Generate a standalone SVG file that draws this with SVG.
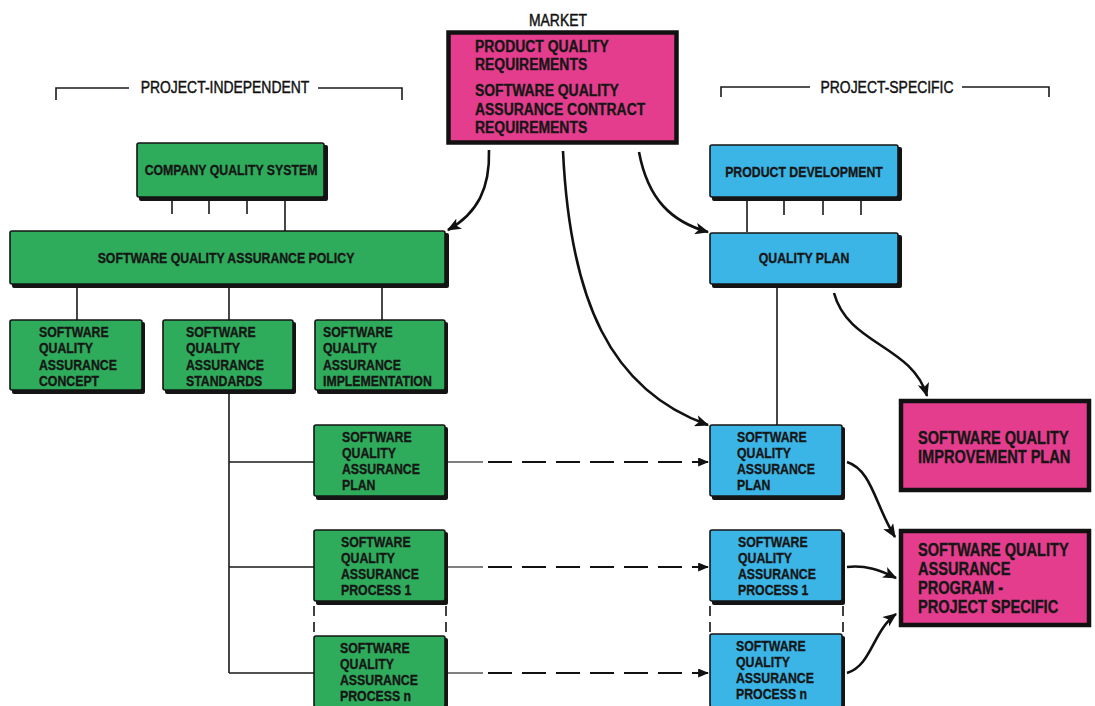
<svg xmlns="http://www.w3.org/2000/svg" width="1095" height="706" viewBox="0 0 1095 706">
<style>
.t{font-family:"Liberation Sans",Arial,sans-serif;font-weight:bold;font-size:15px;fill:#161616;stroke:#161616;stroke-width:0.35}
.tl{font-family:"Liberation Sans",Arial,sans-serif;font-weight:bold;font-size:17px;fill:#161616;stroke:#161616;stroke-width:0.35}
.tp{font-family:"Liberation Sans",Arial,sans-serif;font-weight:bold;font-size:17.8px;fill:#161616;stroke:#161616;stroke-width:0.35}
.h{font-family:"Liberation Sans",Arial,sans-serif;font-size:17px;fill:#111;stroke:#111;stroke-width:0.45}
.g{fill:#2eab5b;stroke:#141414;stroke-width:1.6}
.bl{fill:#3ab5e6;stroke:#141414;stroke-width:1.6}
.pk{fill:#e53d8d;stroke:#111;stroke-width:4.5}
.sh{fill:#141414}
.ln{stroke:#1a1a1a;stroke-width:1.6;fill:none}
.st{stroke:#555;stroke-width:1.6;fill:none}
.ds{stroke:#111;stroke-width:2;fill:none;stroke-dasharray:24 10}
.dv{stroke:#111;stroke-width:1.6;fill:none;stroke-dasharray:10 6}
.cv{stroke:#111;stroke-width:2.6;fill:none;marker-end:url(#ah)}
.ar{stroke:#111;stroke-width:2;fill:none;marker-end:url(#as)}
</style>
<defs>
<marker id="ah" viewBox="0 0 12 10" refX="11" refY="5" markerWidth="5.5" markerHeight="4.5" orient="auto" markerUnits="strokeWidth">
<path d="M0,0 L12,5 L0,10 L3,5 z" fill="#111"/>
</marker>
<marker id="as" viewBox="0 0 12 10" refX="11" refY="5" markerWidth="6" markerHeight="4.5" orient="auto" markerUnits="strokeWidth">
<path d="M0,0 L12,5 L0,10 z" fill="#111"/>
</marker>
</defs>
<rect width="1095" height="706" fill="#ffffff"/>

<g id="headers">
<path class="ln" d="M56,100 V88 H129 M318,88 H402 V100"/>
<g transform="translate(225,0) scale(0.82,1)"><text class="h" x="0" y="93" text-anchor="middle">PROJECT-INDEPENDENT</text></g>
<path class="ln" d="M721,97 V87 H810 M962,87 H1049 V97"/>
<g transform="translate(887,0) scale(0.82,1)"><text class="h" x="0" y="93" text-anchor="middle">PROJECT-SPECIFIC</text></g>
</g>

<g id="connectors">
<path class="ln" d="M172,199 V214 M209,199 V214 M247,199 V214 M285,199 V231"/>
<path class="ln" d="M77,285 V320 M229,285 V320 M382,285 V320"/>
<path class="ln" d="M229,391 V673 M229,462 H314 M229,567 H314 M229,673 H314"/>
<path class="st" d="M447,462 H483 M447,567 H483 M447,673 H483"/>
<path class="ds" d="M488,462 H700 M488,567 H700 M488,673 H700"/>
<path class="ar" d="M696,462 H708"/>
<path class="ar" d="M696,567 H708"/>
<path class="ar" d="M696,673 H708"/>
<path class="dv" d="M314,606 V633 M446,606 V633 M710,606 V633 M843,606 V633"/>
<path class="ln" d="M747,199 V232 M784,199 V215 M823,199 V215 M861,199 V215 M777,286 V425"/>
<path class="cv" d="M489,150 C490,188 478,213 448,230"/>
<path class="cv" d="M563,151 C570,300 610,390 708,425"/>
<path class="cv" d="M639,152 C648,200 672,222 708,232"/>
<path class="cv" d="M834,293 C848,345 912,345 927,396"/>
<path class="cv" d="M847,462 C872,470 875,505 895,537"/>
<path class="cv" d="M847,567 C866,565 880,570 896,578"/>
<path class="cv" d="M847,673 C872,665 872,632 896,614"/>
</g>

<g id="market">
<g transform="translate(558,0) scale(0.82,1)"><text class="h" x="0" y="26" text-anchor="middle">MARKET</text></g>
<rect class="pk" x="448.5" y="32.5" width="228" height="110"/>
<g transform="translate(475,0) scale(0.82,1)">
<text class="tl" x="0" y="52">PRODUCT QUALITY</text>
<text class="tl" x="0" y="70">REQUIREMENTS</text>
<text class="tl" x="0" y="96">SOFTWARE QUALITY</text>
<text class="tl" x="0" y="115">ASSURANCE CONTRACT</text>
<text class="tl" x="0" y="133">REQUIREMENTS</text>
</g>
</g>

<g id="company-quality-system">
<rect class="sh" x="139" y="145" width="189" height="56" rx="2"/>
<rect class="g" x="137" y="143" width="187" height="54" rx="2"/>
<g transform="translate(231,0) scale(0.82,1)"><text class="t" x="0" y="175" text-anchor="middle">COMPANY QUALITY SYSTEM</text></g>
</g>

<g id="sqa-policy">
<rect class="sh" x="12" y="233" width="437" height="55" rx="2"/>
<rect class="g" x="10" y="231" width="435" height="53" rx="2"/>
<g transform="translate(226,0) scale(0.82,1)"><text class="t" x="0" y="263" text-anchor="middle">SOFTWARE QUALITY ASSURANCE POLICY</text></g>
</g>

<g id="sqa-concept">
<rect class="sh" x="12" y="322" width="133" height="72" rx="2"/>
<rect class="g" x="10" y="320" width="132" height="70" rx="2"/>
<g transform="translate(39,0) scale(0.82,1)">
<text class="t" x="0" y="337">SOFTWARE</text>
<text class="t" x="0" y="353.5">QUALITY</text>
<text class="t" x="0" y="370">ASSURANCE</text>
<text class="t" x="0" y="386.5">CONCEPT</text>
</g>
</g>

<g id="sqa-standards">
<rect class="sh" x="165" y="322" width="131" height="72" rx="2"/>
<rect class="g" x="163" y="320" width="130" height="70" rx="2"/>
<g transform="translate(186,0) scale(0.82,1)">
<text class="t" x="0" y="337">SOFTWARE</text>
<text class="t" x="0" y="353.5">QUALITY</text>
<text class="t" x="0" y="370">ASSURANCE</text>
<text class="t" x="0" y="386.5">STANDARDS</text>
</g>
</g>

<g id="sqa-implementation">
<rect class="sh" x="317" y="322" width="131" height="72" rx="2"/>
<rect class="g" x="315" y="320" width="130" height="70" rx="2"/>
<g transform="translate(323,0) scale(0.82,1)">
<text class="t" x="0" y="337">SOFTWARE</text>
<text class="t" x="0" y="353.5">QUALITY</text>
<text class="t" x="0" y="370">ASSURANCE</text>
<text class="t" x="0" y="386.5">IMPLEMENTATION</text>
</g>
</g>

<g id="sqa-plan-generic">
<rect class="sh" x="316" y="427" width="132" height="73" rx="2"/>
<rect class="g" x="314" y="425" width="131" height="71" rx="2"/>
<g transform="translate(342,0) scale(0.82,1)">
<text class="t" x="0" y="442">SOFTWARE</text>
<text class="t" x="0" y="458">QUALITY</text>
<text class="t" x="0" y="474">ASSURANCE</text>
<text class="t" x="0" y="490">PLAN</text>
</g>
</g>

<g id="sqa-process-1-generic">
<rect class="sh" x="316" y="532" width="132" height="73" rx="2"/>
<rect class="g" x="314" y="530" width="131" height="71" rx="2"/>
<g transform="translate(341,0) scale(0.82,1)">
<text class="t" x="0" y="547">SOFTWARE</text>
<text class="t" x="0" y="563">QUALITY</text>
<text class="t" x="0" y="579">ASSURANCE</text>
<text class="t" x="0" y="595">PROCESS 1</text>
</g>
</g>

<g id="sqa-process-n-generic">
<rect class="sh" x="316" y="638" width="132" height="73" rx="2"/>
<rect class="g" x="314" y="636" width="131" height="71" rx="2"/>
<g transform="translate(340,0) scale(0.82,1)">
<text class="t" x="0" y="653">SOFTWARE</text>
<text class="t" x="0" y="669">QUALITY</text>
<text class="t" x="0" y="685">ASSURANCE</text>
<text class="t" x="0" y="701">PROCESS n</text>
</g>
</g>

<g id="product-development">
<rect class="sh" x="712" y="147" width="190" height="54" rx="2"/>
<rect class="bl" x="710" y="145" width="188" height="52" rx="2"/>
<g transform="translate(804,0) scale(0.82,1)"><text class="t" x="0" y="177" text-anchor="middle">PRODUCT DEVELOPMENT</text></g>
</g>

<g id="quality-plan">
<rect class="sh" x="712" y="235" width="190" height="53" rx="2"/>
<rect class="bl" x="710" y="233" width="188" height="51" rx="2"/>
<g transform="translate(804,0) scale(0.82,1)"><text class="t" x="0" y="263" text-anchor="middle">QUALITY PLAN</text></g>
</g>

<g id="sqa-plan-specific">
<rect class="sh" x="712" y="427" width="133" height="73" rx="2"/>
<rect class="bl" x="710" y="425" width="132" height="71" rx="2"/>
<g transform="translate(737,0) scale(0.82,1)">
<text class="t" x="0" y="442">SOFTWARE</text>
<text class="t" x="0" y="458">QUALITY</text>
<text class="t" x="0" y="474">ASSURANCE</text>
<text class="t" x="0" y="490">PLAN</text>
</g>
</g>

<g id="sqa-process-1-specific">
<rect class="sh" x="712" y="532" width="133" height="73" rx="2"/>
<rect class="bl" x="710" y="530" width="132" height="71" rx="2"/>
<g transform="translate(738,0) scale(0.82,1)">
<text class="t" x="0" y="547">SOFTWARE</text>
<text class="t" x="0" y="563">QUALITY</text>
<text class="t" x="0" y="579">ASSURANCE</text>
<text class="t" x="0" y="595">PROCESS 1</text>
</g>
</g>

<g id="sqa-process-n-specific">
<rect class="sh" x="712" y="636" width="133" height="73" rx="2"/>
<rect class="bl" x="710" y="634" width="132" height="73" rx="2"/>
<g transform="translate(736,0) scale(0.82,1)">
<text class="t" x="0" y="651">SOFTWARE</text>
<text class="t" x="0" y="667">QUALITY</text>
<text class="t" x="0" y="683">ASSURANCE</text>
<text class="t" x="0" y="699">PROCESS n</text>
</g>
</g>

<g id="sq-improvement-plan">
<rect class="pk" x="901" y="401" width="188" height="89"/>
<g transform="translate(918,0) scale(0.82,1)">
<text class="tp" x="0" y="444">SOFTWARE QUALITY</text>
<text class="tp" x="0" y="463">IMPROVEMENT PLAN</text>
</g>
</g>

<g id="sqa-program-project-specific">
<rect class="pk" x="901" y="531" width="188" height="94"/>
<g transform="translate(918,0) scale(0.82,1)">
<text class="tp" x="0" y="556">SOFTWARE QUALITY</text>
<text class="tp" x="0" y="575">ASSURANCE</text>
<text class="tp" x="0" y="594">PROGRAM -</text>
<text class="tp" x="0" y="613">PROJECT SPECIFIC</text>
</g>
</g>
</svg>
